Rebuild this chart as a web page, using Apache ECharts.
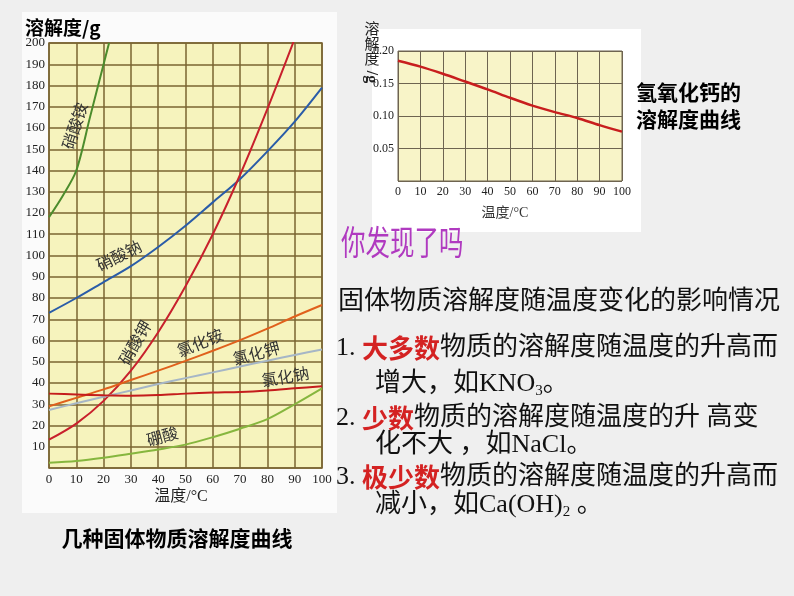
<!DOCTYPE html>
<html><head><meta charset="utf-8">
<script src="https://cdn.jsdelivr.net/npm/echarts@6/dist/echarts.min.js"></script>
<style>html,body{margin:0;padding:0;background:#efefef;}#c{width:794px;height:596px;}</style>
</head><body><div id="c"></div>
<script>
// ---- data ----
const temps = [0,10,20,30,40,50,60,70,80,90,100];
const nh4no3 = [[0,118],[5,128],[10,140],[15,165],[20,190],[22,200]];
const nano3 = [73,80,87.5,95,104,114,125,136,149,163,179];
const kno3 = [13.3,20.9,31.6,45.8,63.9,85.5,110,138,169,202];
const nh4cl = [29,33,37,41.4,45.8,50.4,55.2,60.2,65.6,71.3,76.7];
const kcl = [27.3,30.5,33.5,36.5,39.5,42.3,45,47.8,50.5,53.2,55.8];
const nacl = [35,34.6,34.2,34,34.3,35,35.5,35.8,36.5,37.5,38.5];
const h3bo3 = [2.5,3.3,4.8,6.7,8.7,11,14.5,18.5,23,30,37.5];
const caoh2 = [0.185,0.176,0.165,0.153,0.141,0.128,0.116,0.106,0.097,0.086,0.076];
const mainYTicks = {min:0,max:200,interval:10};
const caYTicks = {min:0,max:0.2,interval:0.05};

const pair = arr => arr.map((v,i)=>[temps[i],v]);
const gridC = '#7a6432';
const serif = "'Liberation Serif','Noto Sans CJK SC'";
const cjk = "'Noto Sans CJK SC'";

function lbl(name, coord, rot){
  return {symbol:'circle', symbolSize:1, itemStyle:{color:'rgba(0,0,0,0)'},
    data:[{name:name, coord:coord}],
    label:{show:true, position:'inside', formatter:'{b}', rotate:rot, color:'#333', fontSize:16, fontFamily:cjk}};
}
function line(name, data, color, w, mp){
  return {type:'line', name:name, data:data, xAxisIndex:0, yAxisIndex:0, smooth:0.3, showSymbol:false,
    lineStyle:{color:color, width:w}, itemStyle:{color:color}, markPoint:mp, z:3, animation:false};
}
function txt(x, y, text, size, extra){
  return {type:'text', x:x, y:y, style:Object.assign({text:text, fontSize:size, fontFamily:serif, fill:'#111', verticalAlign:'middle'}, extra||{})};
}
const redRich = {r:{fill:'#d42222', fontSize:26, fontWeight:'bold', fontFamily:cjk}};
const subRich = {s:{fill:'#111', fontSize:15, fontFamily:serif, padding:[15,0,0,0]}};

const chart = echarts.init(document.getElementById('c'));
chart.setOption({
  backgroundColor:'#efefef',
  animation:false,
  grid:[
    {left:49, right:472, top:43, bottom:128, show:true, backgroundColor:'#f6f3bd', borderColor:gridC, borderWidth:1.5},
    {left:398, right:172, top:51, bottom:415, show:true, backgroundColor:'#f8f4c8', borderColor:'#6e6450', borderWidth:1}
  ],
  xAxis:[
    {gridIndex:0, type:'value', min:0, max:100, interval:10,
     axisLine:{show:false}, axisTick:{show:false},
     splitLine:{show:true, lineStyle:{color:gridC, width:1.5}},
     axisLabel:{margin:5, fontSize:13, color:'#222', fontFamily:serif}},
    {gridIndex:1, type:'value', min:0, max:100, interval:10,
     axisLine:{show:false}, axisTick:{show:false},
     splitLine:{show:true, lineStyle:{color:'#6e6450', width:1}},
     axisLabel:{margin:5, fontSize:12, color:'#222', fontFamily:serif}}
  ],
  yAxis:[
    {gridIndex:0, type:'value', min:mainYTicks.min, max:mainYTicks.max, interval:mainYTicks.interval,
     axisLine:{show:false}, axisTick:{show:false},
     splitLine:{show:true, lineStyle:{color:gridC, width:1.5}},
     axisLabel:{margin:4, fontSize:13, color:'#222', fontFamily:serif, formatter:v=>v===0?'':String(v)}},
    {gridIndex:1, type:'value', min:caYTicks.min, max:caYTicks.max, interval:caYTicks.interval,
     axisLine:{show:false}, axisTick:{show:false},
     splitLine:{show:true, lineStyle:{color:'#6e6450', width:1}},
     axisLabel:{margin:4, fontSize:12, color:'#222', fontFamily:serif, formatter:v=>v===0?'':v.toFixed(2)}}
  ],
  series:[
    line('硝酸铵', nh4no3, '#4c8c2c', 2, lbl('硝酸铵',[9.4,161],72)),
    line('硝酸钠', pair(nano3), '#2a5ca8', 2, lbl('硝酸钠',[25.6,100],26)),
    line('硝酸钾', pair(kno3), '#c8202c', 2, lbl('硝酸钾',[31.5,59],60)),
    line('氯化铵', pair(nh4cl), '#e0601c', 2, lbl('氯化铵',[55.3,59],22)),
    line('氯化钾', pair(kcl), '#a6b6c6', 2, lbl('氯化钾',[76,54],15)),
    line('氯化钠', pair(nacl), '#c41c1c', 2, lbl('氯化钠',[86.6,43],10)),
    line('硼酸', pair(h3bo3), '#86b63e', 2, lbl('硼酸',[41.5,15],15)),
    {type:'line', name:'氢氧化钙', data:pair(caoh2), xAxisIndex:1, yAxisIndex:1, smooth:0.3, showSymbol:false,
     lineStyle:{color:'#c81e1e', width:2.5}, z:3}
  ],
  graphic:[
    {type:'rect', z:-100, shape:{x:22,y:12,width:315,height:501}, style:{fill:'#fbfbfb'}},
    {type:'rect', z:-100, shape:{x:372,y:29,width:269,height:203}, style:{fill:'#ffffff'}},
    {type:'text', x:25, y:28, style:{text:'溶解度/g', fontSize:19, fontWeight:'bold', fontFamily:cjk, fill:'#000', verticalAlign:'middle'}},
    {type:'text', x:181, y:497, style:{text:'温度/°C', fontSize:16, fontFamily:serif, fill:'#222', align:'center', verticalAlign:'middle'}},
    {type:'text', x:177, y:538, style:{text:'几种固体物质溶解度曲线', fontSize:21, fontWeight:'bold', fontFamily:cjk, fill:'#000', align:'center', verticalAlign:'middle'}},
    {type:'text', x:372, y:43, style:{text:'溶\n解\n度', fontSize:15, lineHeight:15, fontFamily:cjk, fill:'#222', align:'center', verticalAlign:'middle'}},
    {type:'text', x:371, y:77, rotation:-Math.PI/2, style:{text:'/g', fontSize:16, fontWeight:'bold', fontFamily:serif, fill:'#222', align:'center', verticalAlign:'middle'}},
    {type:'text', x:505, y:213, style:{text:'温度/°C', fontSize:14, fontFamily:serif, fill:'#333', align:'center', verticalAlign:'middle'}},
    {type:'text', x:636, y:92, style:{text:'氢氧化钙的', fontSize:21, fontWeight:'bold', fontFamily:cjk, fill:'#000', verticalAlign:'middle'}},
    {type:'text', x:636, y:119, style:{text:'溶解度曲线', fontSize:21, fontWeight:'bold', fontFamily:cjk, fill:'#000', verticalAlign:'middle'}},
    {type:'text', x:341, y:242, scaleX:0.72, style:{text:'你发现了吗', fontSize:34, fontFamily:cjk, verticalAlign:'middle', fill:'#b03ac0'}},
    txt(338, 299, '固体物质溶解度随温度变化的影响情况', 26, {fontFamily:cjk}),
    txt(336, 348, '1. {r|大多数}物质的溶解度随温度的升高而', 26, {rich:redRich}),
    txt(375, 384, '增大，如KNO{s|3}。', 26, {rich:subRich}),
    txt(336, 418, '2. {r|少数}物质的溶解度随温度的升 高变', 26, {rich:redRich}),
    txt(375, 445, '化不大 ，如NaCl。', 26),
    txt(336, 477, '3. {r|极少数}物质的溶解度随温度的升高而', 26, {rich:redRich}),
    txt(375, 505, '减小，如Ca(OH){s|2} 。', 26, {rich:subRich})
  ]
});
</script></body></html>
